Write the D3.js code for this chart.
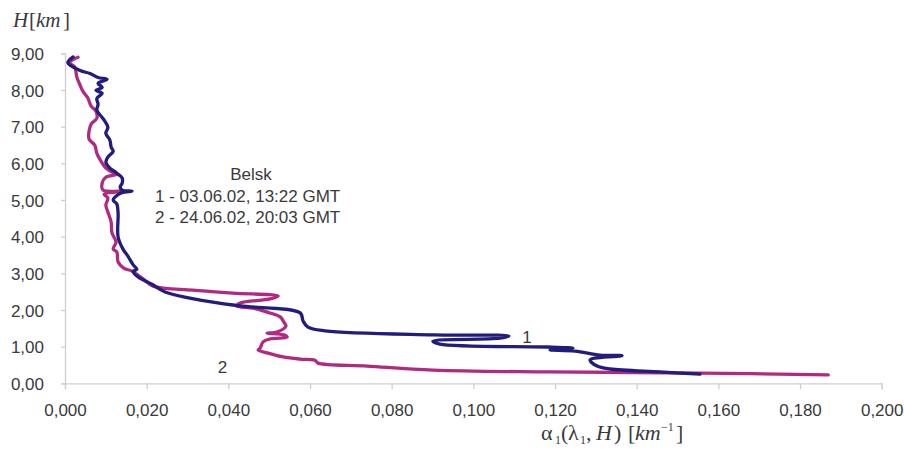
<!DOCTYPE html>
<html>
<head>
<meta charset="utf-8">
<script src="https://cdn.jsdelivr.net/npm/d3@7"></script>
<style>
  html, body { margin: 0; padding: 0; background: #fff; }
  svg { display: block; }
  .tick text { font-family: "Liberation Sans", Arial, sans-serif; font-size: 17px; fill: #3a3a3a; }
</style>
</head>
<body>
<svg id="chart" width="904" height="450"></svg>
<script>
// Extinction profile 1 — 03.06.02, 13:22 GMT (alpha in km^-1, height in km)
const alpha1 = [0.0020, 0.0007, 0.0037, 0.0061, 0.0081, 0.0103, 0.0081, 0.0091, 0.0076, 0.0091,
  0.0078, 0.0081, 0.0078, 0.0091, 0.0098, 0.0105, 0.0100, 0.0110, 0.0113, 0.0118,
  0.0105, 0.0100, 0.0108, 0.0127, 0.0140, 0.0140, 0.0135, 0.0140, 0.0164, 0.0137,
  0.0118, 0.0127, 0.0130, 0.0130, 0.0142, 0.0154, 0.0167, 0.0176, 0.0167, 0.0179,
  0.0213, 0.0245, 0.0331, 0.0429, 0.0576, 0.0583, 0.0595, 0.0637, 0.0901, 0.1087,
  0.1065, 0.0901, 0.0918, 0.1181, 0.1244, 0.1188, 0.1249, 0.1310, 0.1364, 0.1286,
  0.1303, 0.1335, 0.1457, 0.1555];
const height1 = [8.90, 8.74, 8.53, 8.45, 8.34, 8.29, 8.18, 8.07, 7.99, 7.91,
  7.77, 7.61, 7.45, 7.25, 7.14, 6.98, 6.82, 6.63, 6.44, 6.33,
  6.17, 6.03, 5.89, 5.73, 5.60, 5.46, 5.35, 5.27, 5.24, 5.19,
  5.00, 4.89, 4.64, 3.99, 3.66, 3.47, 3.23, 3.11, 3.05, 2.90,
  2.70, 2.49, 2.27, 2.11, 1.92, 1.70, 1.53, 1.43, 1.32, 1.29,
  1.23, 1.15, 1.07, 0.99, 0.96, 0.91, 0.88, 0.77, 0.75, 0.64,
  0.47, 0.39, 0.31, 0.25];

// Extinction profile 2 — 24.06.02, 20:03 GMT
const alpha2 = [0.0032, 0.0012, 0.0024, 0.0029, 0.0037, 0.0044, 0.0056, 0.0064, 0.0076, 0.0078,
  0.0064, 0.0059, 0.0059, 0.0073, 0.0078, 0.0088, 0.0100, 0.0115, 0.0127, 0.0100,
  0.0091, 0.0093, 0.0144, 0.0096, 0.0105, 0.0100, 0.0105, 0.0113, 0.0115, 0.0125,
  0.0118, 0.0127, 0.0130, 0.0144, 0.0164, 0.0189, 0.0216, 0.0313, 0.0411, 0.0522,
  0.0502, 0.0429, 0.0421, 0.0460, 0.0495, 0.0527, 0.0536, 0.0541, 0.0519, 0.0495,
  0.0536, 0.0544, 0.0502, 0.0485, 0.0478, 0.0473, 0.0495, 0.0534, 0.0576, 0.0612,
  0.0620, 0.0740, 0.0901, 0.1188, 0.1555, 0.1869];
const height2 = [8.89, 8.75, 8.62, 8.35, 8.13, 7.96, 7.78, 7.56, 7.42, 7.23,
  7.07, 6.88, 6.66, 6.49, 6.27, 6.06, 5.87, 5.76, 5.70, 5.62,
  5.46, 5.27, 5.24, 5.16, 5.05, 4.86, 4.67, 4.40, 4.10, 3.85,
  3.66, 3.58, 3.31, 3.14, 3.06, 2.87, 2.65, 2.54, 2.46, 2.38,
  2.30, 2.19, 2.11, 2.05, 1.94, 1.81, 1.67, 1.56, 1.40, 1.37,
  1.32, 1.26, 1.21, 1.13, 0.96, 0.91, 0.83, 0.72, 0.66, 0.63,
  0.55, 0.47, 0.36, 0.31, 0.28, 0.23];

const xTicks = [0, 0.02, 0.04, 0.06, 0.08, 0.10, 0.12, 0.14, 0.16, 0.18, 0.20];
const yTicks = [0, 1, 2, 3, 4, 5, 6, 7, 8, 9];
const legendLines = ["Belsk", "1 - 03.06.02, 13:22 GMT", "2 - 24.06.02, 20:03 GMT"];
const seriesColors = ["#221c7c", "#b02a80"];

const svg = d3.select("#chart");

const x = d3.scaleLinear().domain([0, 0.2]).range([65, 881.7]);
const y = d3.scaleLinear().domain([0, 9]).range([383.3, 53.3]);

const commaFmt = (digits) => (v) => d3.format("." + digits + "f")(v).replace(".", ",");

// Axes
const xAxis = svg.append("g")
  .attr("transform", `translate(0,${y(0)})`)
  .call(d3.axisBottom(x).tickValues(xTicks).tickFormat(commaFmt(3)).tickSize(6).tickPadding(15));
const yAxis = svg.append("g")
  .attr("transform", `translate(${x(0)},0)`)
  .call(d3.axisLeft(y).tickValues(yTicks).tickFormat(commaFmt(2)).tickSize(4).tickPadding(17));

[xAxis, yAxis].forEach(g => {
  g.select(".domain").attr("stroke", "#cfcfcf").attr("stroke-width", 1.3);
  g.selectAll(".tick line").attr("stroke", "#cfcfcf").attr("stroke-width", 1.3);
});
yAxis.selectAll(".tick text").attr("dy", "0.36em");

// Profiles
const profiles = [
  alpha1.map((a, i) => [a, height1[i]]),
  alpha2.map((a, i) => [a, height2[i]])
];
const line = d3.line()
  .x(d => x(d[0]))
  .y(d => y(d[1]))
  .curve(d3.curveCatmullRom.alpha(0.5));

svg.append("g").selectAll("path")
  .data(profiles.slice().reverse())
  .join("path")
  .attr("d", line)
  .attr("fill", "none")
  .attr("stroke", (d, i) => seriesColors[1 - i])
  .attr("stroke-width", 3.3)
  .attr("stroke-linejoin", "round")
  .attr("stroke-linecap", "round");

// Curve labels
const sans = '"Liberation Sans", Arial, sans-serif';
svg.append("text").attr("x", 527).attr("y", 343).attr("text-anchor", "middle")
  .attr("font-family", sans).attr("font-size", 17).attr("fill", "#3a3a3a").text("1");
svg.append("text").attr("x", 222.5).attr("y", 373).attr("text-anchor", "middle")
  .attr("font-family", sans).attr("font-size", 17).attr("fill", "#3a3a3a").text("2");

// Station / time legend
svg.append("text").attr("x", 251).attr("y", 180).attr("text-anchor", "middle")
  .attr("font-family", sans).attr("font-size", 17).attr("fill", "#3a3a3a").text(legendLines[0]);
legendLines.slice(1).forEach((t, i) => {
  svg.append("text").attr("x", 155).attr("y", 202 + i * 21)
    .attr("font-family", sans).attr("font-size", 17).attr("fill", "#3a3a3a").text(t);
});

// Axis titles, set in equation style with spaced glyphs
const serif = '"Liberation Serif", "Times New Roman", serif';
const yTitle = svg.append("text").attr("y", 27)
  .attr("font-family", serif).attr("font-size", 21).attr("fill", "#3a3a3a");
[
  { t: "H", x: 13, it: true },
  { t: "[", x: 29 },
  { t: "km", x: 36, it: true },
  { t: "]", x: 63 }
].forEach(p => yTitle.append("tspan").attr("x", p.x)
  .attr("font-style", p.it ? "italic" : null).text(p.t));

const xTitle = svg.append("text").attr("y", 440)
  .attr("font-family", serif).attr("font-size", 22).attr("fill", "#3a3a3a");
[
  { t: "α", x: 541 },
  { t: "1", x: 555, sub: true },
  { t: "(", x: 561 },
  { t: "λ", x: 568 },
  { t: "1", x: 580, sub: true },
  { t: ",", x: 586 },
  { t: "H", x: 596, it: true },
  { t: ")", x: 614 },
  { t: "[", x: 628 },
  { t: "km", x: 635, it: true },
  { t: "−1", x: 661, sup: true },
  { t: "]", x: 676 }
].forEach(p => {
  const s = xTitle.append("tspan").attr("x", p.x).text(p.t);
  if (p.it) s.attr("font-style", "italic");
  if (p.sub) s.attr("font-size", 12).attr("y", 444);
  else if (p.sup) s.attr("font-size", 12).attr("y", 431);
  else s.attr("y", 440);
});
</script>
</body>
</html>
